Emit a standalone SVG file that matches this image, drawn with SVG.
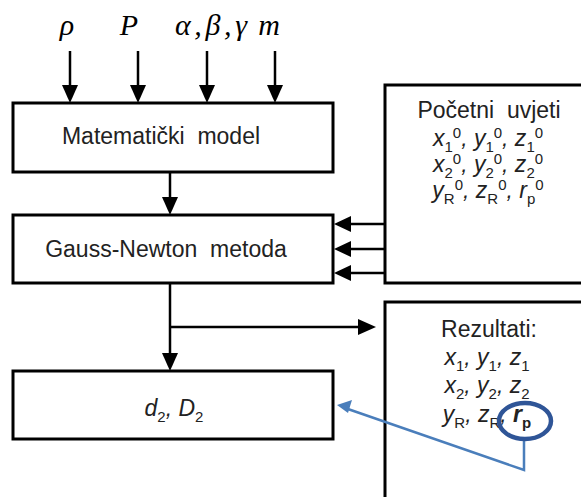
<svg xmlns="http://www.w3.org/2000/svg" width="581" height="497" viewBox="0 0 581 497">
<defs>
<style>
.box{fill:#fff;stroke:#000;stroke-width:3}
.ln{fill:none;stroke:#000;stroke-width:2.5}
.t{font-family:"Liberation Sans",Arial,sans-serif;font-size:23px;fill:#222;text-anchor:middle;white-space:pre}
.m{font-family:"Liberation Sans",Arial,sans-serif;font-size:23px;fill:#222;text-anchor:middle;font-style:italic}
.s{font-size:15px;font-style:normal}
.g{font-family:"Liberation Serif","Times New Roman",serif;font-size:30px;font-style:italic;fill:#000;text-anchor:middle}
</style>
</defs>

<g id="inputs">
<text class="g" x="67" y="35">ρ</text>
<text class="g" x="129" y="35">P</text>
<text class="g" x="211" y="35" textLength="72" lengthAdjust="spacing">α,β,γ</text>
<text class="g" x="269" y="35">m</text>
</g>

<g id="model">
<rect class="box" x="13" y="103" width="320" height="69"/>
<text class="t" x="161" y="144">Matematički  model</text>
</g>

<g id="gauss">
<rect class="box" x="13" y="215" width="320" height="68"/>
<text class="t" x="166" y="257">Gauss-Newton  metoda</text>
</g>

<g id="result">
<rect class="box" x="13" y="371" width="320" height="68"/>
<text class="m" x="174" y="416" font-size="24">d<tspan class="s" dy="6" font-size="16">2</tspan><tspan dy="-6">, D</tspan><tspan class="s" dy="6" font-size="16">2</tspan></text>
</g>

<g id="pocetni">
<rect class="box" x="385" y="85" width="200" height="198"/>
<text class="t" x="489" y="118">Početni  uvjeti</text>
<text class="m" x="488" y="146">x<tspan class="s" dy="6">1</tspan><tspan class="s" dy="-14">0</tspan><tspan dy="8">, y</tspan><tspan class="s" dy="6">1</tspan><tspan class="s" dy="-14">0</tspan><tspan dy="8">, z</tspan><tspan class="s" dy="6">1</tspan><tspan class="s" dy="-14">0</tspan></text>
<text class="m" x="488" y="172">x<tspan class="s" dy="6">2</tspan><tspan class="s" dy="-14">0</tspan><tspan dy="8">, y</tspan><tspan class="s" dy="6">2</tspan><tspan class="s" dy="-14">0</tspan><tspan dy="8">, z</tspan><tspan class="s" dy="6">2</tspan><tspan class="s" dy="-14">0</tspan></text>
<text class="m" x="488" y="198">y<tspan class="s" dy="6">R</tspan><tspan class="s" dy="-14">0</tspan><tspan dy="8">, z</tspan><tspan class="s" dy="6">R</tspan><tspan class="s" dy="-14">0</tspan><tspan dy="8">, r</tspan><tspan class="s" dy="6">p</tspan><tspan class="s" dy="-14">0</tspan></text>
</g>

<g id="rezultati">
<rect class="box" x="385" y="302" width="200" height="210"/>
<text class="t" x="489" y="337">Rezultati:</text>
<text class="m" x="487" y="365">x<tspan class="s" dy="6">1</tspan><tspan dy="-6">, y</tspan><tspan class="s" dy="6">1</tspan><tspan dy="-6">, z</tspan><tspan class="s" dy="6">1</tspan></text>
<text class="m" x="487" y="393">x<tspan class="s" dy="6">2</tspan><tspan dy="-6">, y</tspan><tspan class="s" dy="6">2</tspan><tspan dy="-6">, z</tspan><tspan class="s" dy="6">2</tspan></text>
<text class="m" x="487" y="422">y<tspan class="s" dy="6">R</tspan><tspan dy="-6">, z</tspan><tspan class="s" dy="6">R</tspan><tspan dy="-6">, </tspan><tspan font-weight="bold">r</tspan><tspan class="s" font-weight="bold" dy="6">p</tspan></text>
</g>

<g id="connectors">
<path class="ln" d="M70,51 V86" /><path d="M62,85 L78,85 L70,103 Z"/>
<path class="ln" d="M138,51 V86" /><path d="M130,85 L146,85 L138,103 Z"/>
<path class="ln" d="M207,51 V86" /><path d="M199,85 L215,85 L207,103 Z"/>
<path class="ln" d="M275,51 V86" /><path d="M267,85 L283,85 L275,103 Z"/>
<path class="ln" d="M170,172 V198" /><path d="M162,197 L178,197 L170,215 Z"/>
<path class="ln" d="M385,224 H350" /><path d="M351,216 L351,232 L334,224 Z"/>
<path class="ln" d="M385,249 H350" /><path d="M351,241 L351,257 L334,249 Z"/>
<path class="ln" d="M385,273 H350" /><path d="M351,265 L351,281 L334,273 Z"/>
<path class="ln" d="M170,283 V354" /><path d="M162,353 L178,353 L170,371 Z"/>
<path class="ln" d="M170,327 H360" /><path d="M358,319 L358,335 L376,327 Z"/>
<path d="M524,439 V470 L345,408" fill="none" stroke="#4A7EBB" stroke-width="2.5"/>
<path d="M337,405 L352,400 L348,413 Z" fill="#4A7EBB"/>
<ellipse cx="525" cy="421" rx="26" ry="18" fill="none" stroke="#2F5597" stroke-width="4.5"/>
</g>
</svg>
